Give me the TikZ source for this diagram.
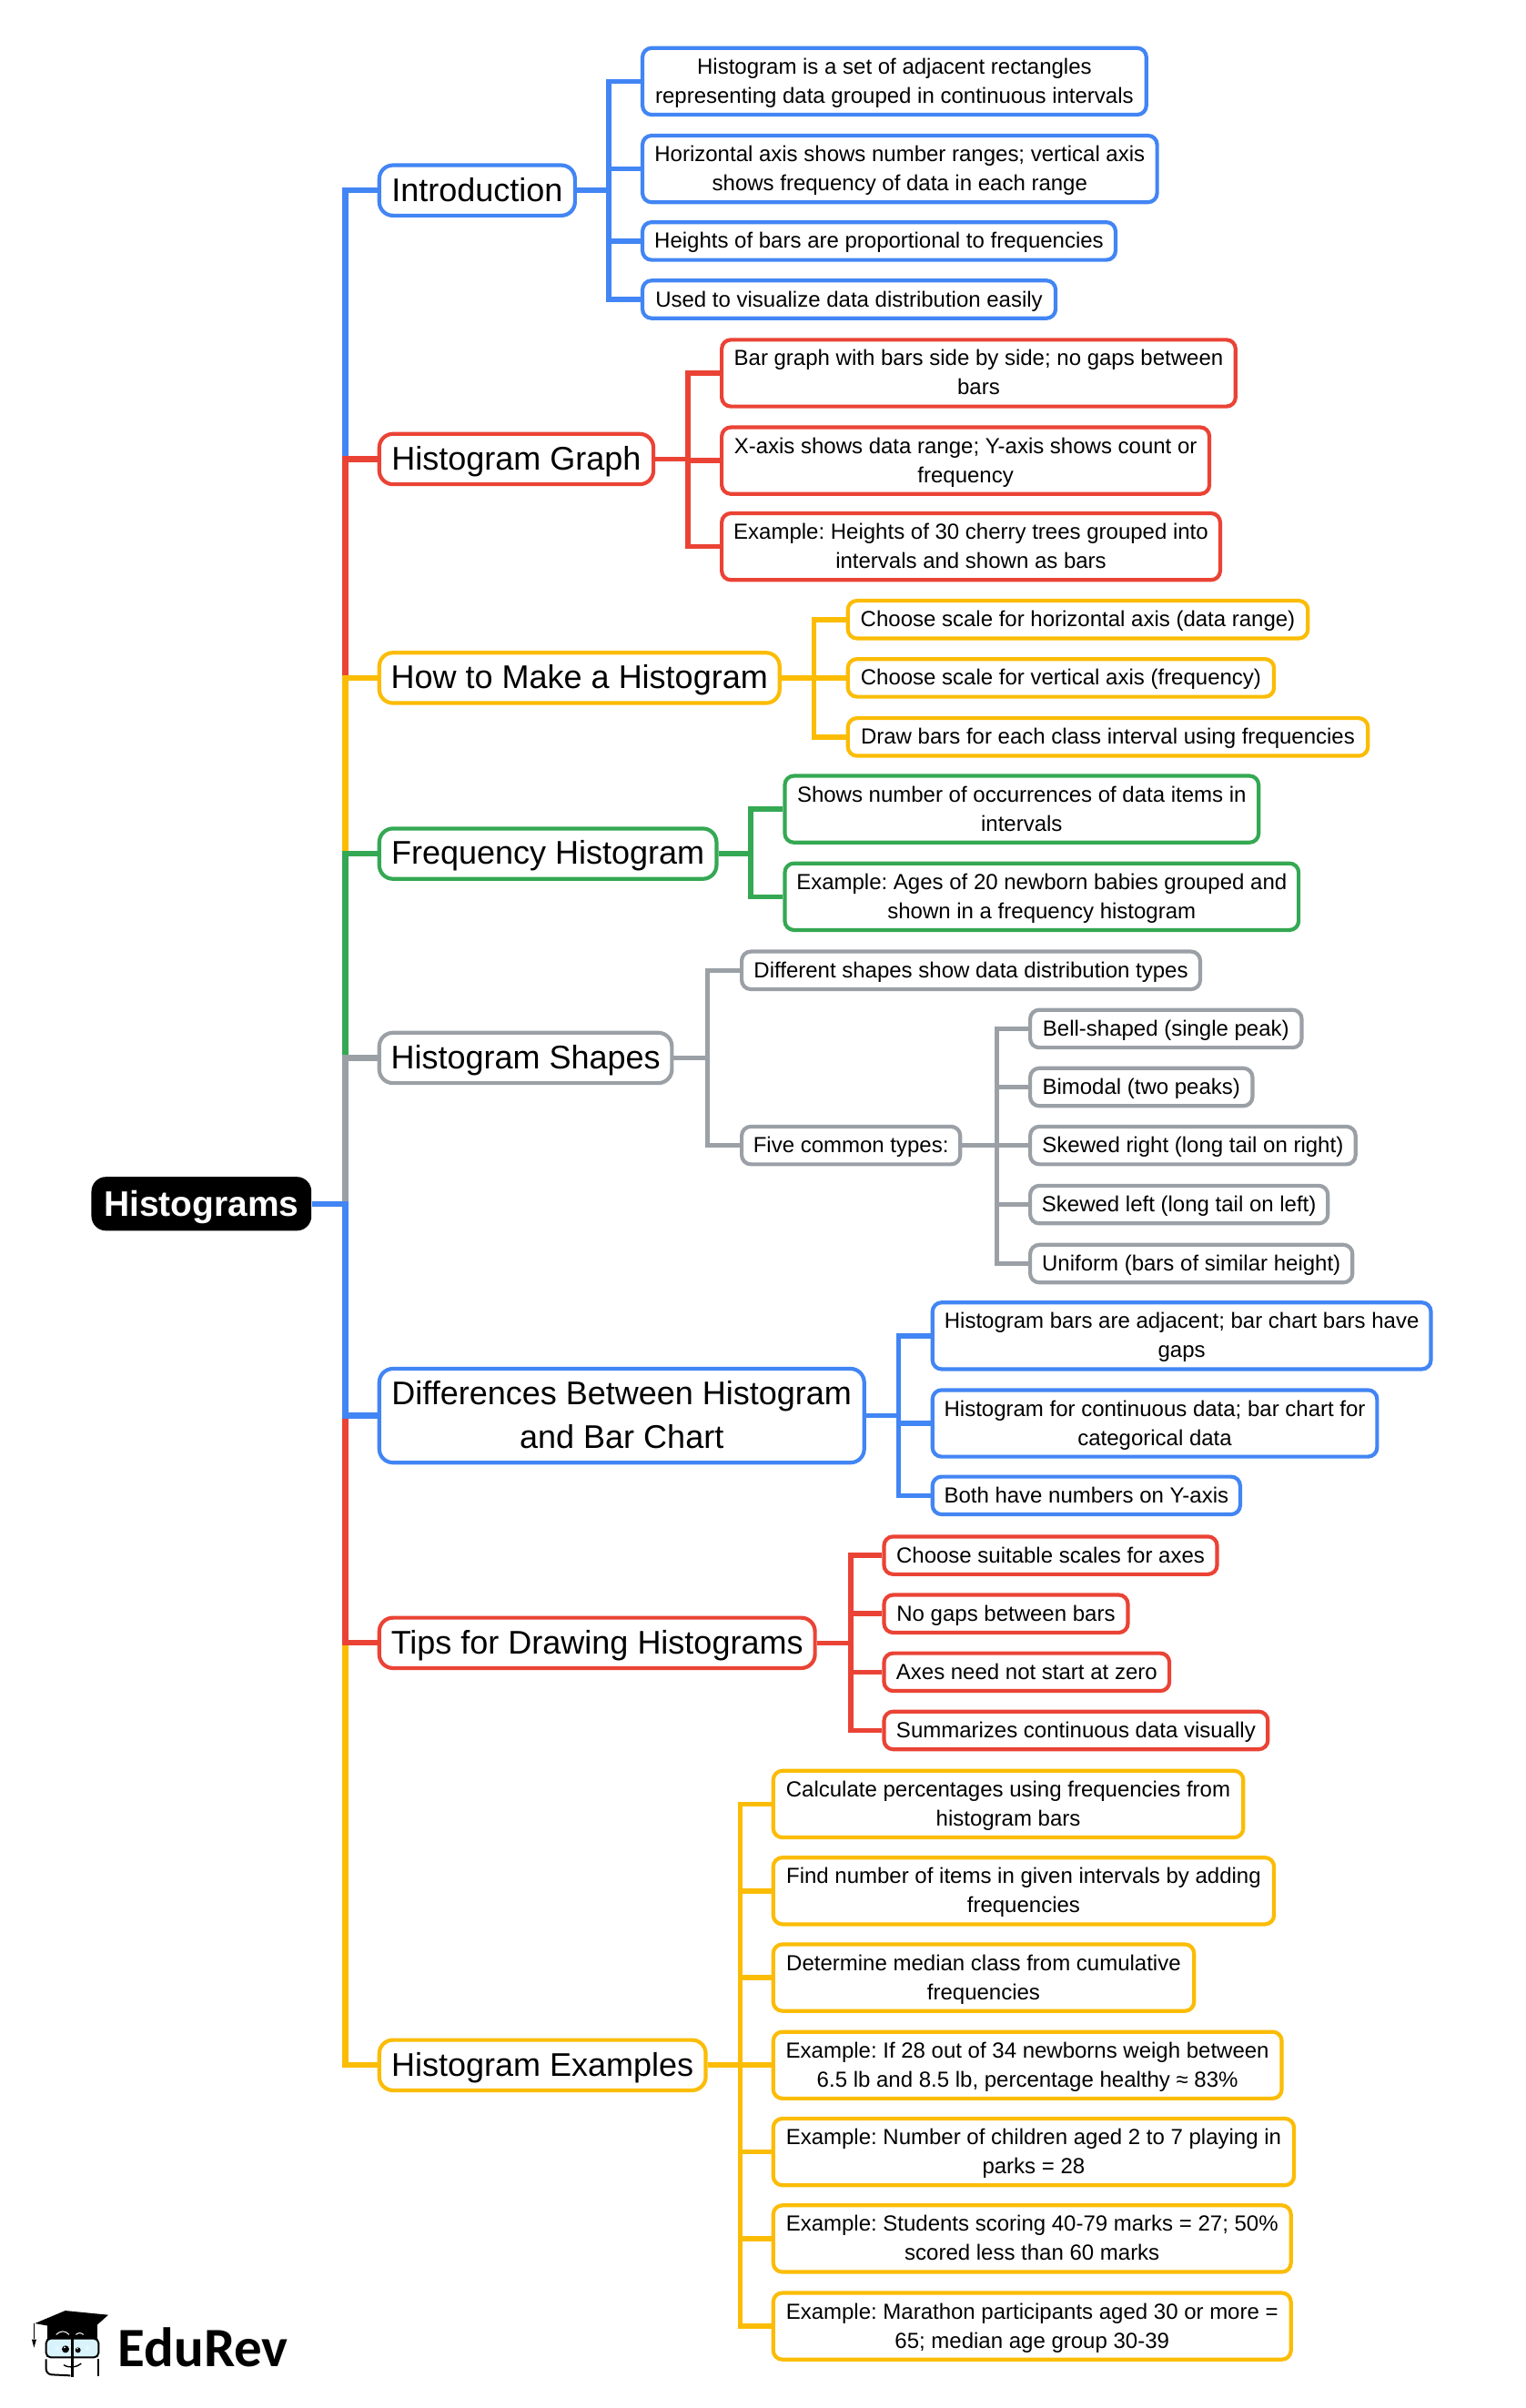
\documentclass[tikz,border=0pt]{standalone}
\usepackage{fontspec}
\setmainfont{Liberation Sans}
\newfontfamily\logofont{Carlito}
\frenchspacing
\definecolor{cblue}{HTML}{4285F4}
\definecolor{cred}{HTML}{EA4335}
\definecolor{camber}{HTML}{FBBC05}
\definecolor{cgreen}{HTML}{34A853}
\definecolor{cgray}{HTML}{9AA0A6}
\def\uu{0.8453pt}
\newcommand{\lstrut}{\rule[-.25\baselineskip]{0pt}{\baselineskip}}
\tikzset{
  boxbase/.style={draw=#1,line width=2.1pt,fill=white,anchor=west,inner sep=0pt,align=center,text=black},
  leafbox/.style={boxbase=#1,rounded corners=5pt,font=\fontsize{12}{16}\selectfont},
  bigbox/.style={boxbase=#1,rounded corners=7.5pt,font=\fontsize{18}{23.7}\selectfont},
  rootbox/.style={draw=none,fill=black,text=white,anchor=west,inner sep=0pt,rounded corners=8pt,font=\fontsize{19.5}{24}\selectfont\bfseries},
  conn/.style={draw=#1,line width=2.8pt},
  trunk/.style={draw=#1,line width=3.1pt},
}
% name, colour, x0, x1, yc, h, text
\newcommand{\leafn}[7]{\node[leafbox=#2,minimum width={(#4-#3)*\uu-2.1pt},minimum height={#6*\uu-2.1pt}] (#1) at ({#3-0.6},#5) {\lstrut #7\lstrut};}
\newcommand{\bign}[7]{\node[bigbox=#2,minimum width={(#4-#3)*\uu-2.1pt},minimum height={#6*\uu-2.1pt}] (#1) at (#3,#5) {\lstrut #7\lstrut};}
\begin{document}
\begin{tikzpicture}[x=0.8453pt,y=-0.8436pt]
\useasboundingbox (0,0) rectangle (991.5,1568.3);
\coordinate (t0) at (224.5,784);
\coordinate (bi) at (395.7,0);
\coordinate (bh) at (447,0);
\coordinate (bm) at (529,0);
\coordinate (bf) at (488,0);
\coordinate (bs) at (460,0);
\coordinate (bt) at (648,0);
\coordinate (bd) at (584,0);
\coordinate (bp) at (553,0);
\coordinate (be) at (481.2,0);
\pgfdeclarelayer{bg}\pgfsetlayers{bg,main}
\node[rootbox,minimum width={143*\uu},minimum height={35*\uu}] (root) at (59.2,784) {\rule[-.2125\baselineskip]{0pt}{\baselineskip}Histograms};
\bign{intro}{cblue}{245.3}{375}{124}{35.2}{Introduction}
\bign{hg}{cred}{245.3}{426}{299}{35.2}{Histogram Graph}
\bign{howto}{camber}{245.3}{508}{441.5}{35.2}{How to Make a Histogram}
\bign{freq}{cgreen}{245.3}{467}{556}{35.2}{Frequency Histogram}
\bign{shapes}{cgray}{245.3}{438}{689}{35.2}{Histogram Shapes}
\bign{diff}{cblue}{245.3}{563}{922}{63.5}{Differences Between Histogram\\and Bar Chart}
\bign{tips}{cred}{245.3}{531}{1070}{35.2}{Tips for Drawing Histograms}
\bign{ex}{camber}{245.3}{460}{1345}{35.2}{Histogram Examples}
\leafn{i1}{cblue}{417}{747}{53}{45.8}{Histogram is a set of adjacent rectangles\\representing data grouped in continuous intervals}
\leafn{i2}{cblue}{417}{754}{110}{45.8}{Horizontal axis shows number ranges; vertical axis\\shows frequency of data in each range}
\leafn{i3}{cblue}{417}{727}{157}{27}{Heights of bars are proportional to frequencies}
\leafn{i4}{cblue}{417}{688}{195}{27}{Used to visualize data distribution easily}
\leafn{h1}{cred}{468.5}{805}{243}{45.8}{Bar graph with bars side by side; no gaps between\\bars}
\leafn{h2}{cred}{468.5}{788}{300}{45.8}{X-axis shows data range; Y-axis shows count or\\frequency}
\leafn{h3}{cred}{468.5}{795}{356}{45.8}{Example: Heights of 30 cherry trees grouped into\\intervals and shown as bars}
\leafn{m1}{camber}{550.5}{852}{403.5}{27}{Choose scale for horizontal axis (data range)}
\leafn{m2}{camber}{550.5}{830}{441.5}{27}{Choose scale for vertical axis (frequency)}
\leafn{m3}{camber}{550.5}{891}{480}{27}{Draw bars for each class interval using frequencies}
\leafn{f1}{cgreen}{509.5}{820}{527}{45.8}{Shows number of occurrences of data items in\\intervals}
\leafn{f2}{cgreen}{509.5}{846}{584}{45.8}{Example: Ages of 20 newborn babies grouped and\\shown in a frequency histogram}
\leafn{s1}{cgray}{481.5}{782}{632}{27}{Different shapes show data distribution types}
\leafn{s2}{cgray}{481.5}{626}{746}{27}{Five common types:}
\leafn{t1}{cgray}{669}{848}{670}{27}{Bell-shaped (single peak)}
\leafn{t2}{cgray}{669}{816}{708}{27}{Bimodal (two peaks)}
\leafn{t3}{cgray}{669}{883}{746}{27}{Skewed right (long tail on right)}
\leafn{t4}{cgray}{669}{865}{784.5}{27}{Skewed left (long tail on left)}
\leafn{t5}{cgray}{669}{881}{823}{27}{Uniform (bars of similar height)}
\leafn{d1}{cblue}{605.5}{932}{870}{45.8}{Histogram bars are adjacent; bar chart bars have\\gaps}
\leafn{d2}{cblue}{605.5}{897}{927}{45.8}{Histogram for continuous data; bar chart for\\categorical data}
\leafn{d3}{cblue}{605.5}{808}{974}{27}{Both have numbers on Y-axis}
\leafn{p1}{cred}{574}{793}{1013}{27}{Choose suitable scales for axes}
\leafn{p2}{cred}{574}{735}{1051}{27}{No gaps between bars}
\leafn{p3}{cred}{574}{762}{1089}{27}{Axes need not start at zero}
\leafn{p4}{cred}{574}{826}{1127}{27}{Summarizes continuous data visually}
\leafn{e1}{camber}{502}{810}{1175}{45.8}{Calculate percentages using frequencies from\\histogram bars}
\leafn{e2}{camber}{502}{830}{1231.5}{45.8}{Find number of items in given intervals by adding\\frequencies}
\leafn{e3}{camber}{502}{778}{1288}{45.8}{Determine median class from cumulative\\frequencies}
\leafn{e4}{camber}{502}{835}{1345}{45.8}{Example: If 28 out of 34 newborns weigh between\\6.5 lb and 8.5 lb, percentage healthy ≈ 83\%}
\leafn{e5}{camber}{502}{843}{1401.5}{45.8}{Example: Number of children aged 2 to 7 playing in\\parks = 28}
\leafn{e6}{camber}{502}{841}{1458}{45.8}{Example: Students scoring 40-79 marks = 27; 50\%\\scored less than 60 marks}
\leafn{e7}{camber}{502}{841}{1515}{45.8}{Example: Marathon participants aged 30 or more =\\65; median age group 30-39}
\begin{pgfonlayer}{bg}
\draw[trunk=cblue] (root.east) -- (t0) |- (intro.west);
\draw[trunk=cred] (root.east) -- (t0) |- (hg.west);
\draw[trunk=camber] (root.east) -- (t0) |- (howto.west);
\draw[trunk=cgreen] (root.east) -- (t0) |- (freq.west);
\draw[trunk=cgray] (root.east) -- (t0) |- (shapes.west);
\draw[trunk=camber] (root.east) -- (t0) |- (ex.west);
\draw[trunk=cred] (root.east) -- (t0) |- (tips.west);
\draw[trunk=cblue] (root.east) -- (t0) |- (diff.west);
\foreach \c in {i1,i2,i3,i4} \draw[conn=cblue] (intro.east) -- (bi |- intro.east) |- (\c.west);
\foreach \c in {h1,h2,h3} \draw[conn=cred] (hg.east) -- (bh |- hg.east) |- (\c.west);
\foreach \c in {m1,m2,m3} \draw[conn=camber] (howto.east) -- (bm |- howto.east) |- (\c.west);
\foreach \c in {f1,f2} \draw[conn=cgreen] (freq.east) -- (bf |- freq.east) |- (\c.west);
\foreach \c in {s1,s2} \draw[conn=cgray] (shapes.east) -- (bs |- shapes.east) |- (\c.west);
\foreach \c in {t1,t2,t3,t4,t5} \draw[conn=cgray] (s2.east) -- (bt |- s2.east) |- (\c.west);
\foreach \c in {d1,d2,d3} \draw[conn=cblue] (diff.east) -- (bd |- diff.east) |- (\c.west);
\foreach \c in {p1,p2,p3,p4} \draw[conn=cred] (tips.east) -- (bp |- tips.east) |- (\c.west);
\foreach \c in {e1,e2,e3,e4,e5,e6,e7} \draw[conn=camber] (ex.east) -- (be |- ex.east) |- (\c.west);
\end{pgfonlayer}
% logo
\begin{scope}[shift={(0,1422.3)},x=0.16667pt,y=-0.16667pt]
\fill[black] (155,465) -- (320,465) -- (320,512) -- (155,512) -- cycle;
\draw[white,line width=0.5pt] (185,497) .. controls (200,483) and (215,483) .. (228,497);
\draw[white,line width=0.5pt] (250,497) .. controls (258,490) and (268,490) .. (275,497);
\fill[black] (115,460) -- (215,418) -- (357,432) -- (290,492) -- cycle;
\draw[black,line width=0.7pt] (112,460) -- (112,512);
\fill[black] (105,513) -- (120,513) -- (112,540) -- cycle;
\draw[black,line width=1pt,fill=cyan!15!white,rounded corners=2.5pt] (152,510) rectangle (325,572);
\draw[black,line width=1pt,rounded corners=3pt] (232,632) -- (152,628) -- (152,578);
\draw[black,line width=1pt,rounded corners=3pt] (325,635) -- (325,578);
\draw[black,line width=1.2pt] (238,505) -- (238,636);
\fill[black] (216,545) circle[radius=12];
\fill[black] (257,548) circle[radius=9];
\fill[white] (213,539) circle[radius=3];
\fill[white] (255,543) circle[radius=2.5];
\fill[white!90!cyan] (188,541) circle[radius=7];
\fill[white!90!cyan] (287,541) circle[radius=7];
\draw[black,line width=0.7pt] (210,597) .. controls (230,608) and (250,606) .. (268,592);
\node[anchor=base west,inner sep=0pt,font=\fontsize{30.5}{31}\logofont\bfseries] (logo) at (388,603) {EduRev};
\end{scope}
\end{tikzpicture}
\end{document}
